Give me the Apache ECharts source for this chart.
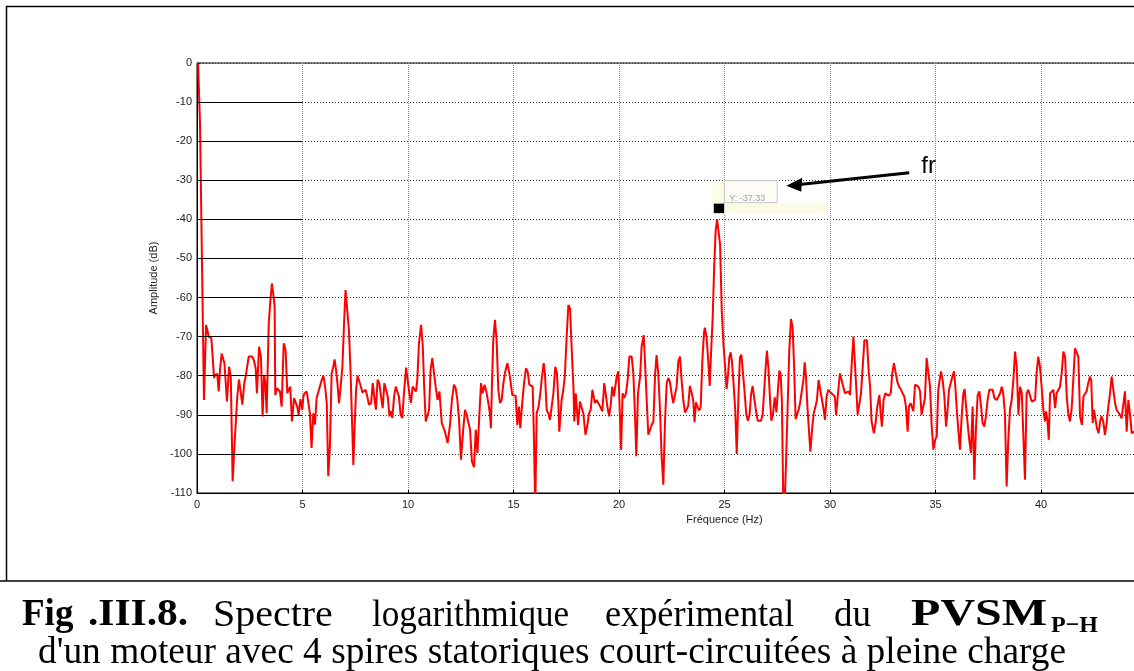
<!DOCTYPE html>
<html>
<head>
<meta charset="utf-8">
<script src="https://cdn.jsdelivr.net/npm/echarts@6/dist/echarts.min.js"></script>
<style>
html,body{margin:0;padding:0;background:#fff;}
#chart{width:1134px;height:671px;}
</style>
</head>
<body>
<div id="chart"></div>
<script>
// ---- Data ----
const freqHz = [
0.05,0.14,0.22,0.33,0.43,0.49,0.55,0.68,0.73,0.81,0.85,0.92,0.96,1.03,1.09,1.17,1.23,1.30,1.42,1.52,1.60,1.69,1.79,1.91,1.99,2.07,2.15,2.24,2.32,2.45,2.61,2.69,2.78,2.84,2.94,3.03,3.11,3.18,3.24,3.30,3.40,3.48,3.55,3.63,3.68,3.71,3.79,3.87,3.93,4.01,4.11,4.20,4.28,4.34,4.42,4.50,4.60,4.69,4.75,4.82,4.90,4.94,4.99,5.04,5.10,5.20,5.26,5.35,5.43,5.51,5.59,5.67,5.80,
5.91,5.99,6.07,6.15,6.22,6.30,6.38,6.46,6.52,6.59,6.67,6.73,6.81,6.89,6.97,7.04,7.12,7.20,7.28,7.35,7.41,7.47,7.54,7.61,7.69,7.77,7.84,7.91,7.99,8.07,8.15,8.25,8.33,8.40,8.48,8.56,8.64,8.72,8.80,8.88,8.96,9.04,9.12,9.18,9.26,9.34,9.42,9.50,9.57,9.65,9.73,9.81,9.91,9.98,10.06,10.14,10.22,10.30,10.38,10.44,10.52,10.62,10.70,10.76,10.84,10.92,11.00,11.07,11.15,11.22,11.31,11.40,11.49,
11.60,11.67,11.75,11.88,11.99,12.08,12.18,12.26,12.34,12.42,12.51,12.61,12.70,12.78,12.86,12.94,13.03,13.13,13.21,13.29,13.37,13.46,13.54,13.63,13.71,13.81,13.88,13.93,13.98,14.04,14.12,14.20,14.28,14.36,14.44,14.52,14.61,14.71,14.79,14.87,14.94,15.02,15.10,15.18,15.26,15.32,15.40,15.50,15.59,15.67,15.75,15.83,15.91,15.97,16.03,16.10,16.19,16.27,16.35,16.43,16.49,16.57,16.65,16.73,16.81,16.89,16.98,17.06,17.12,17.17,
17.28,17.36,17.43,17.52,17.60,17.68,17.76,17.84,17.88,17.95,17.99,18.06,18.15,18.23,18.31,18.41,18.49,18.58,18.66,18.74,18.78,18.86,18.94,19.03,19.11,19.21,19.30,19.38,19.45,19.53,19.61,19.68,19.76,19.83,19.89,19.97,20.03,20.10,20.17,20.25,20.33,20.41,20.49,20.60,20.68,20.76,20.82,20.90,21.00,21.07,21.17,21.25,21.33,21.39,21.47,21.55,21.63,21.71,21.78,21.86,21.94,22.02,22.10,22.18,22.26,22.34,22.41,22.49,22.57,22.65,22.73,22.81,22.89,
22.97,23.05,23.13,23.21,23.28,23.36,23.44,23.52,23.58,23.65,23.71,23.79,23.87,23.95,24.03,24.07,24.15,24.23,24.30,24.36,24.44,24.51,24.58,24.65,24.71,24.79,24.87,24.95,25.03,25.10,25.17,25.23,25.29,25.35,25.43,25.51,25.58,25.65,25.73,25.80,25.88,25.96,26.03,26.11,26.19,26.26,26.33,26.41,26.49,26.57,26.65,26.73,26.81,26.89,26.95,27.01,27.08,27.16,27.22,27.30,27.38,27.46,27.54,27.60,27.66,27.72,27.79,27.85,27.92,28.00,28.07,28.15,28.23,28.30,28.37,28.45,28.52,
28.58,28.66,28.74,28.80,28.86,28.93,29.01,29.07,29.15,29.23,29.31,29.38,29.46,29.54,29.62,29.70,29.76,29.84,29.92,30.00,30.07,30.15,30.23,30.29,30.38,30.47,30.55,30.63,30.71,30.79,30.87,30.95,31.03,31.11,31.17,31.25,31.31,31.39,31.47,31.55,31.63,31.69,31.75,31.83,31.90,31.97,32.08,32.16,32.24,32.34,32.40,32.46,32.54,32.62,32.70,32.78,32.88,32.95,33.03,33.11,33.19,33.27,33.37,33.44,33.52,33.60,33.68,33.74,33.82,33.89,33.95,34.03,34.11,34.19,34.27,
34.34,34.42,34.50,34.58,34.66,34.74,34.82,34.90,34.98,35.06,35.13,35.21,35.26,35.34,35.42,35.50,35.56,35.64,35.72,35.80,35.88,35.94,36.02,36.08,36.16,36.24,36.32,36.38,36.45,36.52,36.60,36.68,36.76,36.84,36.92,37.00,37.08,37.16,37.23,37.31,37.39,37.47,37.55,37.63,37.71,37.79,37.90,37.98,38.06,38.14,38.21,38.29,38.37,38.45,38.53,38.61,38.69,38.77,38.85,38.93,39.01,39.09,39.16,39.24,
39.32,39.40,39.48,39.56,39.64,39.72,39.79,39.87,39.95,40.03,40.11,40.19,40.24,40.30,40.37,40.43,40.51,40.59,40.67,40.74,40.82,40.90,40.98,41.06,41.14,41.22,41.29,41.37,41.45,41.53,41.61,41.69,41.77,41.85,41.94,42.01,42.09,42.16,42.24,42.32,42.38,42.45,42.51,42.57,42.65,42.73,42.80,42.87,42.95,43.03,43.11,43.19,43.27,43.35,43.43,43.51,43.58,43.66,43.74,43.82,43.90,43.98,44.06,44.14,44.22,44.30,44.37,44.50
];
const ampDb = [
0,-15,-45,-86.2,-67,-68.3,-70,-70.4,-70.9,-80.6,-79.8,-80.2,-79.5,-84,-78.5,-74.3,-74.1,-76.8,-86.6,-77.7,-80.2,-107,-96.4,-85.3,-81,-81,-87.4,-81.9,-79.8,-75.1,-75.1,-75.9,-78.1,-84.5,-72.6,-75.1,-90.4,-79.8,-81.9,-89.6,-66.6,-60.6,-56.4,-59.8,-62.3,-84.9,-83.2,-83.2,-84,-87.9,-71.7,-73.4,-84.5,-83.6,-82.8,-91.7,-85.7,-86.2,-87.9,-90,-86,-87,-88.7,-85.3,-84.5,-84,-84.5,-89.6,-98.5,-89.6,-92.5,-85.7,-83.2,
-81.1,-80,-82.8,-87,-105.7,-98.1,-79.4,-77.7,-75.8,-78.5,-82.8,-87,-82.8,-77.7,-66.6,-58.1,-57.7,-68.3,-79.4,-92.1,-102.8,-93,-83.6,-80,-80.2,-82.8,-84.3,-84,-83.6,-85.3,-87.4,-87,-81.9,-85.3,-88.7,-81,-81.9,-85.3,-88.3,-81.9,-81.5,-85.3,-90.4,-89.1,-90.8,-85.3,-82.8,-82.8,-85.3,-90,-90.8,-84.3,-77.9,-77.9,-84.3,-87,-82.8,-82.3,-84,-81.1,-71.7,-67,-72.4,-81.9,-91.7,-91.7,-88.7,-78.5,-75.5,-75.5,-82.8,-86.2,-84,
-92.1,-92.6,-94.3,-97.2,-92.6,-86.2,-82.3,-83.2,-86.2,-91.3,-101.5,-94.3,-88.7,-90,-90.4,-93.8,-101.9,-103.4,-93.8,-99.8,-91.3,-81.9,-84.5,-82.3,-84,-87,-89.6,-93.4,-81.9,-70.9,-65.7,-70.9,-83.6,-87,-86.2,-81.9,-78.9,-76.8,-78.9,-81.9,-84.9,-84.9,-85.1,-92.6,-87.9,-93.4,-87.9,-81.9,-78.1,-78.9,-82.3,-82.8,-82.8,-96.4,-114,-89.6,-87.9,-84.5,-80.2,-76.8,-79.4,-88.7,-89.6,-91.3,-91.7,-84.5,-77.7,-79.4,-86.2,-94.3,
-86.2,-83.6,-80.2,-70,-61.9,-62.8,-73.4,-82.8,-91.7,-84.5,-84.9,-92.6,-86.6,-87,-89.6,-95.1,-93,-89.6,-88.7,-83.6,-84,-87,-86.2,-86.2,-87.9,-89.1,-81.9,-82.3,-87.9,-90.4,-87.4,-82.8,-85.3,-85.7,-80.2,-78.9,-78.9,-98.9,-84.5,-85.7,-84.5,-81.1,-75.1,-75.1,-79.4,-90.4,-100.6,-84.5,-80.2,-72.6,-69.6,-78.5,-88.3,-95.1,-93.8,-92.6,-91.7,-79.8,-74.7,-79.4,-88.3,-100.6,-107.9,-91.7,-81.9,-80.6,-81.5,-84.5,-87,-86.6,-82.8,-76.4,-75.1,
-81.3,-86.4,-89.4,-88.5,-87.7,-82.6,-84.3,-86.4,-91.9,-86.8,-87.2,-88.9,-88.1,-76.2,-68.9,-67.7,-70.2,-76.2,-82.6,-74.5,-65.1,-52.3,-43,-40,-40.4,-46.4,-63.4,-71.9,-77.9,-83.4,-79.6,-75.3,-74,-76.2,-82.1,-88.9,-100,-87.2,-75.3,-74.6,-79.6,-84.7,-89.8,-91.5,-89.8,-84.7,-82.6,-83,-88.9,-91.5,-91.9,-91.5,-89.8,-83,-77.9,-73.6,-77.9,-86.4,-91.5,-89.8,-85.5,-89.4,-83,-78.7,-79.6,-86.4,-114,-113,-101.7,-86.4,-73.6,-65.5,-67.7,-77.9,-91.1,-89.8,-88.5,
-87,-84,-81.1,-76.6,-80.2,-87.9,-94.7,-99.4,-93.8,-89.6,-87.9,-86.2,-81.1,-81.5,-86.2,-88.7,-91.3,-85.3,-83.6,-84,-84.5,-84,-85.3,-90,-84.5,-79.4,-79.8,-82.8,-84.5,-84.5,-84,-84.9,-76.8,-70,-70.4,-83.6,-90,-90.4,-84.5,-84,-70.9,-70.4,-70.9,-78.5,-82.8,-91.7,-94.7,-92.1,-87.9,-84.9,-89.6,-93,-86.2,-84.5,-84.6,-85.1,-84.5,-79.4,-76.8,-76.8,-81.5,-82.8,-83.6,-84.5,-85.3,-87.9,-94.3,-87.9,-87,-86.6,-89.1,-82.3,-81.9,-82.8,-84,
-90,-87.9,-85.7,-75.5,-75.5,-82.8,-93,-98.9,-96.4,-95.5,-83.6,-80.6,-78.9,-81.1,-85.3,-93,-89.6,-83.6,-81.9,-80.2,-78.9,-82.8,-89.6,-93.8,-98.9,-90.4,-84.5,-83.4,-87.9,-92.1,-96.4,-99.8,-87.9,-106.6,-93,-84.9,-84,-87.9,-92.1,-93,-90.4,-86.2,-83.6,-83.2,-83.6,-85.7,-86.2,-86.2,-84.5,-82.8,-84.5,-89.6,-108.3,-96.4,-88.7,-86.2,-81.1,-73.8,-77.7,-90,-82.8,-84.5,-94.7,-106.6,
-84.5,-83.6,-84,-86.6,-86.6,-86.2,-79.4,-75.1,-77.7,-82.8,-88.7,-91.7,-89.1,-91.3,-96.4,-84.5,-84,-83.6,-88.3,-84.5,-84.5,-82.8,-79.4,-73.8,-75.1,-85.3,-89.6,-91.7,-88.7,-81.1,-73,-72.6,-75.1,-90.4,-92.6,-85.3,-84.9,-84,-81.9,-80.2,-81.1,-92.1,-88.7,-88.3,-93.4,-94.7,-91.7,-90.4,-91.7,-95.1,-92.1,-87.9,-84.5,-80.2,-80.2,-87,-88.7,-89.1,-90,-90.9,-87.4,-84,-94.3,-86.2,-90,-94.7,-94.7,-94
];
const xTicks = {min: 0, max: 50, interval: 5};
const yTicks = {min: -110, max: 0, interval: 10};
const gridYLines = [-10,-20,-30,-40,-50,-60,-70,-80,-90,-100];
const dataTip = {freq: 24.75, amp: -37, label: 'Y: -37.33'};
const xTitle = 'Fréquence (Hz)';
const yTitle = 'Amplitude (dB)';
const annotationText = 'fr';

const seriesData = freqHz.map((f, i) => [f, ampDb[i]]);

const chart = echarts.init(document.getElementById('chart'), null, {renderer: 'canvas'});

const solidLines = gridYLines.map(v => [{coord: [0, v]}, {coord: [5, v]}]);

const option = {
  animation: false,
  backgroundColor: '#ffffff',
  grid: {left: 197, top: 63, width: 1055, height: 430, show: true, borderColor: '#000', borderWidth: 1,
         backgroundColor: 'transparent', containLabel: false, outerBoundsMode: 'none'},
  xAxis: {
    type: 'value', min: xTicks.min, max: xTicks.max, interval: xTicks.interval,
    name: xTitle, nameLocation: 'middle', nameGap: 21,
    nameTextStyle: {fontFamily: 'Liberation Sans', fontSize: 11, color: '#222'},
    axisLine: {show: true, onZero: false, lineStyle: {color: '#000', width: 1}},
    axisTick: {show: true, inside: true, length: 3, lineStyle: {color: '#000'}},
    axisLabel: {fontFamily: 'Liberation Sans', fontSize: 11, color: '#222', margin: 6},
    splitLine: {show: true, lineStyle: {color: '#8a8a8a', width: 1, type: [1, 1]}}
  },
  yAxis: {
    type: 'value', min: yTicks.min, max: yTicks.max, interval: yTicks.interval,
    name: yTitle, nameLocation: 'middle', nameGap: 36, nameRotate: 90,
    nameTextStyle: {fontFamily: 'Liberation Sans', fontSize: 11, color: '#222'},
    axisLine: {show: true, lineStyle: {color: '#000', width: 1}},
    axisTick: {show: true, inside: true, length: 3, lineStyle: {color: '#000'}},
    axisLabel: {fontFamily: 'Liberation Sans', fontSize: 11, color: '#222', margin: 5},
    splitLine: {show: true, lineStyle: {color: '#333', width: 1, type: [1, 2]}}
  },
  series: [{
    type: 'line',
    data: seriesData,
    showSymbol: false,
    symbol: 'none',
    clip: true,
    lineStyle: {color: '#ff0000', width: 2},
    markLine: {
      silent: true, symbol: 'none', label: {show: false},
      lineStyle: {color: '#000', width: 1, type: 'solid'},
      data: solidLines
    },
    markPoint: {
      silent: true,
      data: [{coord: [dataTip.freq, dataTip.amp], symbol: 'rect', symbolSize: 11, itemStyle: {color: '#000'}, label: {show: false}}]
    }
  }]
};
chart.setOption(option);

// Annotation (data tip box, arrow, label) anchored on the data tip coordinate
const p = chart.convertToPixel({gridIndex: 0}, [dataTip.freq, dataTip.amp]);
const px = p[0], py = p[1];
const serif = 'Liberation Serif';
chart.setOption({
  graphic: [
    // data tip yellow background
    {type: 'rect', z: 5, shape: {x: px - 7, y: py - 26, width: 12, height: 22}, style: {fill: '#fcfce6'}},
    {type: 'rect', z: 5, shape: {x: px + 5, y: py - 5, width: 103, height: 11}, style: {fill: '#fcfce6'}},
    {type: 'rect', z: 6, shape: {x: px + 5, y: py - 27, width: 53, height: 22}, style: {fill: '#fdfdf6', stroke: '#c8c8c8', lineWidth: 1}},
    {type: 'text', z: 7, x: px + 10, y: py - 14, style: {text: dataTip.label, fontFamily: 'Liberation Sans', fontSize: 9, fill: '#a0a0a0'}},
    // arrow
    {type: 'line', z: 8, shape: {x1: px + 190, y1: py - 35, x2: px + 78, y2: py - 23}, style: {stroke: '#000', lineWidth: 3}},
    {type: 'polygon', z: 8, shape: {points: [[px + 67, py - 22], [px + 83, py - 30], [px + 82, py - 16]]}, style: {fill: '#000'}},
    {type: 'text', z: 8, x: px + 202, y: py - 53, style: {text: annotationText, fontFamily: 'Liberation Sans', fontSize: 24, fill: '#000'}},
    // figure frame
    {type: 'line', z: 9, shape: {x1: 6, y1: 6.5, x2: 1134, y2: 6.5}, style: {stroke: '#000', lineWidth: 1.5}},
    {type: 'line', z: 9, shape: {x1: 6.5, y1: 6, x2: 6.5, y2: 581}, style: {stroke: '#000', lineWidth: 1.5}},
    {type: 'line', z: 9, shape: {x1: 0, y1: 581, x2: 1134, y2: 581}, style: {stroke: '#000', lineWidth: 1.5}},
    // caption line 1
    {type: 'text', z: 9, x: 22, y: 596, scaleY: 1.05, style: {text: 'Fig', fontFamily: serif, fontWeight: 'bold', fontSize: 37, fill: '#000'}},
    {type: 'text', z: 9, x: 88, y: 596, scaleY: 1.05, scaleX: 1.12, style: {text: '.III.8.', fontFamily: serif, fontWeight: 'bold', fontSize: 37, fill: '#000'}},
    {type: 'text', z: 9, x: 213, y: 596, scaleY: 1.05, scaleX: 1.08, style: {text: 'Spectre', fontFamily: serif, fontSize: 37, fill: '#000'}},
    {type: 'text', z: 9, x: 372, y: 596, scaleY: 1.05, scaleX: 0.95, style: {text: 'logarithmique', fontFamily: serif, fontSize: 37, fill: '#000'}},
    {type: 'text', z: 9, x: 605, y: 596, scaleY: 1.05, scaleX: 0.98, style: {text: 'expérimental', fontFamily: serif, fontSize: 37, fill: '#000'}},
    {type: 'text', z: 9, x: 834, y: 596, scaleY: 1.05, style: {text: 'du', fontFamily: serif, fontSize: 37, fill: '#000'}},
    {type: 'text', z: 9, x: 911, y: 596, scaleY: 1.05, scaleX: 1.3, style: {text: 'PVSM', fontFamily: serif, fontWeight: 'bold', fontSize: 37, fill: '#000'}},
    {type: 'text', z: 9, x: 1051, y: 614, style: {text: 'P−H', fontFamily: serif, fontWeight: 'bold', fontSize: 24, fill: '#000'}},
    // caption line 2
    {type: 'text', z: 9, x: 38, y: 633, scaleY: 1.05, scaleX: 1.01, style: {text: "d'un moteur avec 4 spires statoriques court-circuitées à pleine charge", fontFamily: serif, fontSize: 37, fill: '#000'}}
  ]
});
</script>
</body>
</html>
